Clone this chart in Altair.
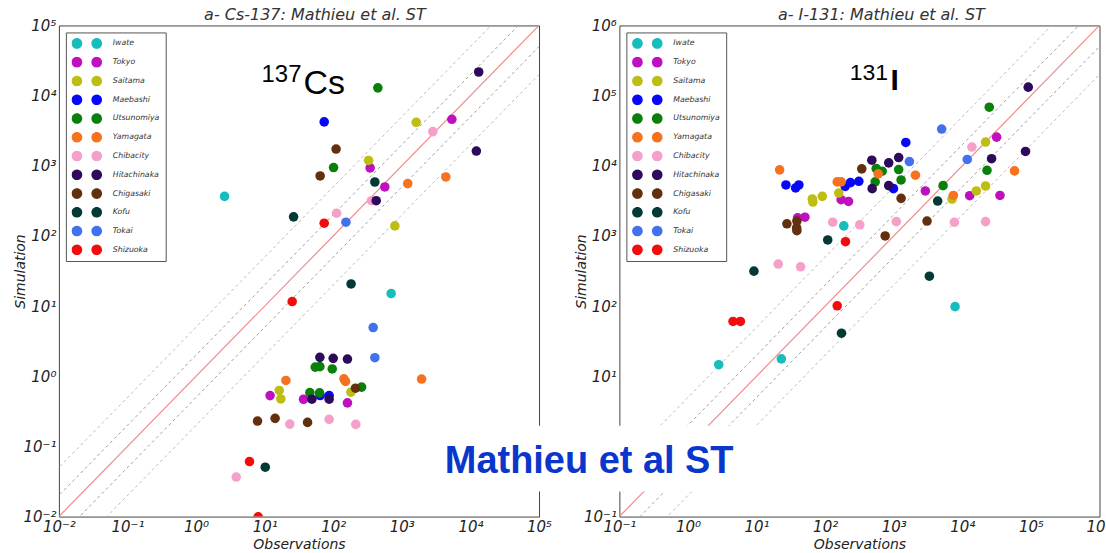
import altair as alt
import pandas as pd

stations = ["Iwate", "Tokyo", "Saitama", "Maebashi", "Utsunomiya", "Yamagata",
            "Chibacity", "Hitachinaka", "Chigasaki", "Kofu", "Tokai", "Shizuoka"]
colors = ["#17bcbc", "#bf10bf", "#bdbd14", "#0808f8", "#0a800a", "#f6721e",
          "#f5a0c8", "#2e0a5c", "#62300e", "#053a34", "#4271ee", "#f20c0c"]

# ---- Cs-137 panel: (observation, simulation) per station ----
cs_obs = {
    "Iwate": [2.6, 698],
    "Tokyo": [5360, 345, 565, 12.0, 36.9, 161],
    "Saitama": [1620, 327, 791, 16.3, 17.2, 181],
    "Maebashi": [73.8, 87.1, 64.4],
    "Utsunomiya": [447, 101, 54.6, 63.8, 96.6, 45.6, 63.1, 259],
    "Yamagata": [1220, 4380, 20.4, 143, 151, 1940],
    "Chibacity": [2830, 361, 112, 23.3, 87.1, 213, 3.85],
    "Hitachinaka": [13200, 12200, 423, 63.8, 99.8, 161, 48.8, 87.1],
    "Chigasaki": [110, 64.4, 211, 7.87, 14.2, 42.2],
    "Kofu": [404, 26.4, 182, 10.2],
    "Tokai": [153, 382, 404],
    "Shizuoka": [73.8, 25.2, 6.01, 8.05],
}
cs_sim = {
    "Iwate": [366, 15.1],
    "Tokyo": [4600, 933, 499, 0.53, 0.47, 0.417],
    "Saitama": [4170, 1190, 139, 0.627, 0.475, 0.593],
    "Maebashi": [4220, 0.531, 0.531],
    "Utsunomiya": [12900, 944, 1.35, 1.37, 1.27, 0.586, 0.579, 0.70],
    "Yamagata": [557, 693, 0.871, 0.92, 0.843, 0.912],
    "Chibacity": [3070, 318, 211, 0.208, 0.243, 0.206, 0.0366],
    "Hitachinaka": [21700, 1620, 318, 1.86, 1.80, 1.76, 0.471, 0.471],
    "Chigasaki": [1730, 716, 0.676, 0.23, 0.251, 0.22],
    "Kofu": [587, 187, 20.7, 0.0505],
    "Tokai": [157, 4.95, 1.84],
    "Shizuoka": [152, 11.6, 0.0608, 0.0099],
}

# ---- I-131 panel ----
i_obs = {
    "Iwate": [187, 7830, 2.81, 23.0],
    "Tokyo": [39.6, 50.7, 171, 219, 2890, 31600, 12800, 35400],
    "Saitama": [64.9, 66.2, 90.8, 158, 21800, 7080, 16000, 21800],
    "Maebashi": [26.8, 37.1, 41.4, 196, 234, 310, 1500, 991],
    "Utsunomiya": [555, 678, 536, 1180, 1280, 24700, 22900, 5240],
    "Yamagata": [21.7, 150, 171, 593, 2070, 57700, 7400],
    "Chibacity": [129, 320, 1090, 13800, 7660, 21800, 20.7, 43.9],
    "Hitachinaka": [479, 485, 845, 1180, 845, 91400, 26700, 83400],
    "Chigasaki": [27.7, 38.7, 38.7, 38.4, 342, 1280, 750, 3060],
    "Kofu": [109, 4370, 3310, 9.16, 173],
    "Tokai": [1690, 5000, 11800],
    "Shizuoka": [198, 4.54, 5.81, 150],
}
i_sim = {
    "Iwate": [1390, 98.2, 14.6, 17.7],
    "Tokyo": [1810, 1850, 3280, 3100, 4380, 25600, 3740, 3780],
    "Saitama": [3360, 3040, 3660, 4090, 21800, 3360, 4380, 5150],
    "Maebashi": [5330, 4830, 5330, 5090, 5750, 6010, 21500, 4720],
    "Utsunomiya": [9140, 8360, 5890, 8830, 6280, 68400, 8630, 5210],
    "Yamagata": [8750, 5890, 5890, 7660, 7330, 8450, 3780],
    "Chibacity": [1570, 1440, 1600, 18500, 1570, 1600, 397, 363],
    "Hitachinaka": [12000, 4720, 11000, 13100, 5210, 132000, 12600, 16000],
    "Chigasaki": [1490, 1630, 1190, 1300, 9040, 3430, 1000, 1630],
    "Kofu": [877, 3140, 267, 315, 41.1],
    "Tokai": [11500, 33400, 12300],
    "Shizuoka": [828, 60.4, 60.4, 101],
}

ratio_factors = [0.2, 0.5, 1, 2, 5]
line_ends = [1e-4, 1e8]

cs_domain = [1e-2, 1e5]
i_domain = [1e-1, 1e6]
cs_ticks = [1e-2, 1e-1, 1e0, 1e1, 1e2, 1e3, 1e4, 1e5]
i_ticks = [1e-1, 1e0, 1e1, 1e2, 1e3, 1e4, 1e5, 1e6]

cs_title = "a- Cs-137: Mathieu et al. ST"
i_title = "a- I-131: Mathieu et al. ST"

W, H = 481, 492
SUP = ("'10' + ['\u207b\u00b2','\u207b\u00b9','\u2070','\u00b9','\u00b2','\u00b3','\u2074','\u2075','\u2076']"
       "[round(log(datum.value)/LN10)+2]")
TWO_DOTS = ("M -1,0 A 0.35,0.35 0 1,0 -0.3,0 A 0.35,0.35 0 1,0 -1,0 Z "
            "M 0.3,0 A 0.35,0.35 0 1,0 1,0 A 0.35,0.35 0 1,0 0.3,0 Z")


def points_df(obs, sim):
    rows = []
    for s in stations:
        for o, v in zip(obs[s], sim[s]):
            rows.append({"station": s, "obs": o, "sim": v})
    return pd.DataFrame(rows)


def lines_df():
    rows = []
    for k in ratio_factors:
        for x in line_ends:
            rows.append({"k": k, "x": x, "y": k * x,
                         "kind": "one" if k == 1 else ("inner" if k in (0.5, 2) else "outer")})
    return pd.DataFrame(rows)


def panel(obs, sim, domain, ticks, title, notes, title_dx, box=None, banner=None, cut_last=False):
    xs = alt.Scale(type="log", domain=domain, nice=False)
    ys = alt.Scale(type="log", domain=domain, nice=False)
    if cut_last:
        xax = alt.Axis(values=ticks, labelExpr="datum.value > 500000 ? '10' : " + SUP,
                       labelAlign=alt.condition("datum.value > 500000", alt.value("right"), alt.value("center")),
                       labelOffset=alt.condition("datum.value > 500000", alt.value(5.5), alt.value(0)),
                       title="Observations", labelFlush=False, labelOverlap=False,
                       titleY=21, titleBaseline="top")
    else:
        xax = alt.Axis(values=ticks, labelExpr=SUP, title="Observations", labelFlush=False,
                       labelOverlap=False, titleY=21, titleBaseline="top")
    yax = alt.Axis(values=ticks, labelExpr=SUP, title="Simulation", labelOverlap=False,
                   titleX=-38, titleBaseline="middle")
    X = lambda f: alt.X(f, type="quantitative", scale=xs, axis=xax)
    Y = lambda f: alt.Y(f, type="quantitative", scale=ys, axis=yax)

    ld = lines_df()
    base_l = alt.Chart(ld).encode(x=X("x"), y=Y("y"), detail="k:N")
    outer = base_l.transform_filter("datum.kind == 'outer'").mark_line(
        clip=True, color="#bcbcbc", strokeDash=[3, 3], strokeWidth=1)
    inner = base_l.transform_filter("datum.kind == 'inner'").mark_line(
        clip=True, color="#a0a0a0", strokeDash=[3, 3], strokeWidth=1)
    one = base_l.transform_filter("datum.kind == 'one'").mark_line(
        clip=True, color="#f08c8c", strokeWidth=1.2)

    pts = alt.Chart(points_df(obs, sim)).mark_circle(size=92, opacity=1, clip=True).encode(
        x=X("obs"), y=Y("sim"),
        color=alt.Color("station:N", sort=stations,
                        scale=alt.Scale(domain=stations, range=colors),
                        legend=alt.Legend(
                            title=None, orient="top-left", offset=7,
                            symbolType=TWO_DOTS, symbolSize=930, symbolStrokeWidth=0,
                            clipHeight=11, rowPadding=7.8, padding=5.5,
                            labelOffset=10.5, labelFont="DejaVu Sans",
                            labelFontStyle="italic", labelFontSize=7.8,
                            labelColor="#333", strokeColor="#555", fillColor="white")),
    )

    layers = [outer, inner, one, pts]
    for t, xv, yv, size, align, weight in notes:
        layers.append(
            alt.Chart(pd.DataFrame({"t": [t], "x": [xv], "y": [yv]})).mark_text(
                font="Liberation Sans", fontSize=size, align=align, baseline="alphabetic",
                color="black", fontWeight=weight).encode(x=X("x"), y=Y("y"), text="t:N"))
    if box is not None:
        bx = pd.DataFrame({"x": [box[0]], "x2": [box[1]], "y": [box[2]], "y2": [box[3]]})
        layers.append(alt.Chart(bx).mark_rect(color="white").encode(
            x=X("x"), x2="x2", y=Y("y"), y2="y2"))
    if banner is not None:
        t, xv, yv = banner
        layers.append(
            alt.Chart(pd.DataFrame({"t": [t], "x": [xv], "y": [yv]})).mark_text(
                font="Liberation Sans", fontSize=38, fontWeight="bold", align="center",
                baseline="alphabetic", color="#0a36cc").encode(x=X("x"), y=Y("y"), text="t:N"))

    return alt.layer(*layers).properties(
        width=W, height=H,
        title=alt.Title(title, font="DejaVu Sans", fontSize=16, fontStyle="italic",
                        fontWeight="normal", color="#333", offset=4, dy=9, dx=title_dx),
    )


cs_notes = [("137", 34.4, 15450, 24, "right", "normal"),
            ("Cs", 36.8, 10420, 34, "left", "normal")]
i_notes = [("131", 828, 164800, 23, "right", "normal"),
           ("I", 896, 118900, 30, "left", "bold")]

left = panel(cs_obs, cs_sim, cs_domain, cs_ticks, cs_title, cs_notes, 16)
right = panel(i_obs, i_sim, i_domain, i_ticks, i_title, i_notes, 22,
              box=(1.75e-4, 11.1, 0.227, 1.97),
              banner=("Mathieu et al ST", 0.0363, 0.419), cut_last=True)

chart = alt.hconcat(left, right, spacing=80.5, bounds="flush").resolve_scale(
    color="independent").resolve_legend(color="independent").properties(
    padding={"left": 13, "top": 6, "right": 0, "bottom": 0},
    background="white",
).configure_view(stroke="#444", strokeWidth=1).configure_axis(
    ticks=False, domain=False, grid=False,
    labelFont="DejaVu Sans", labelFontStyle="italic", labelFontSize=15, labelColor="#222",
    labelPadding=3,
    titleFont="DejaVu Sans", titleFontStyle="italic", titleFontSize=14,
    titleFontWeight="normal", titleColor="#222", titlePadding=3,
)

chart.save("out.html", embed_options={"renderer": "svg", "actions": False})
